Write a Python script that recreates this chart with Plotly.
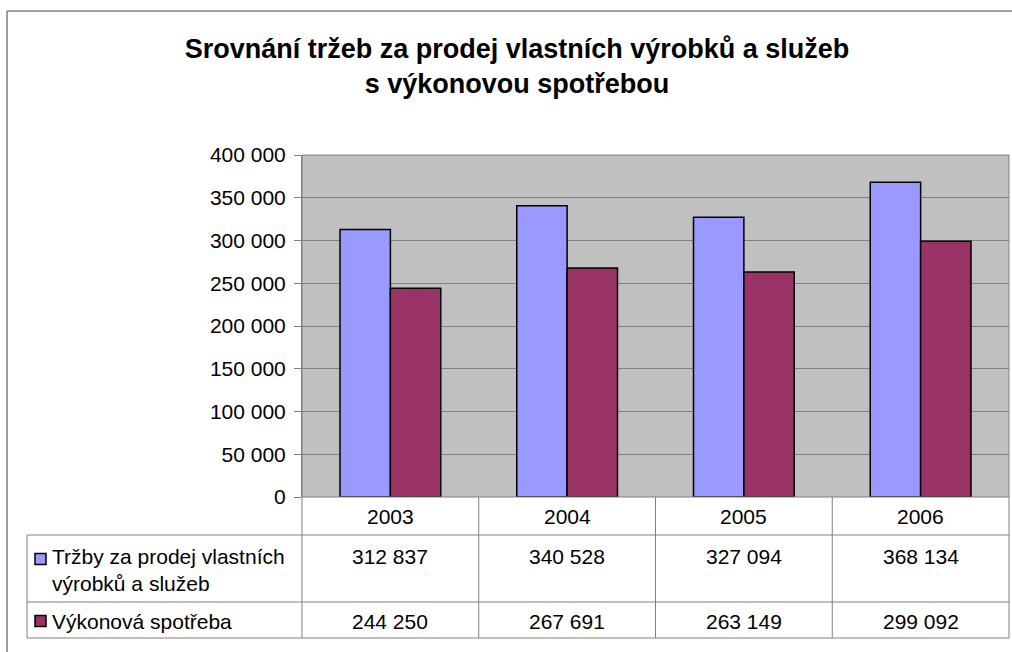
import plotly.graph_objects as go

years = ["2003", "2004", "2005", "2006"]
trzby = [312837, 340528, 327094, 368134]
spotreba = [244250, 267691, 263149, 299092]
series_names = ["Tržby za prodej vlastních<br>výrobků a služeb", "Výkonová spotřeba"]
series_colors = ["#9999FF", "#993366"]
title_text = "Srovnání tržeb za prodej vlastních výrobků a služeb<br>s výkonovou spotřebou"

FONT = "Liberation Sans, Arial, sans-serif"
W, H = 1012, 652
L, R, T, B = 302, 3, 155, 155
plot_h = H - T - B
plot_w = W - L - R


def py(pix):
    # pixel row -> paper y
    return (H - B - pix) / plot_h


def px_(pix):
    return (pix - L) / plot_w


def fmt(v):
    return f"{v:,}".replace(",", " ")


fig = go.Figure()
for name, vals, col in zip(series_names, [trzby, spotreba], series_colors):
    fig.add_trace(go.Bar(
        x=years, y=vals, name=name,
        marker=dict(color=col, line=dict(color="black", width=1.5)),
        showlegend=False,
    ))

fig.update_layout(
    width=W, height=H,
    margin=dict(l=L, r=R, t=T, b=B),
    paper_bgcolor="white",
    plot_bgcolor="#C0C0C0",
    barmode="group",
    bargap=0.43,
    bargroupgap=0,
    separators=", ",
    font=dict(family=FONT, size=21, color="black"),
    title=dict(
        text=title_text, x=517 / W, xanchor="center", y=1 - 58 / H, yanchor="top",
        font=dict(family=FONT, size=27, color="black", weight="bold"),
    ),
)
fig.update_xaxes(type="category", range=[-0.5, len(years) - 0.5],
                 showticklabels=False, showgrid=False, ticks="",
                 zeroline=False, showline=False)
fig.update_yaxes(range=[0, 400000], dtick=50000, tickformat=",d",
                 showgrid=True, gridcolor="#808080", gridwidth=1,
                 ticks="outside", ticklen=7, tickcolor="#808080",
                 ticklabelstandoff=4,
                 showline=True, linecolor="#808080", linewidth=1,
                 zeroline=False, tickfont=dict(size=21))

shapes = []
line = dict(color="#808080", width=1)
# plot frame top/right
shapes.append(dict(type="rect", xref="paper", yref="paper", x0=0, x1=1, y0=0, y1=1,
                   line=line, layer="above"))
# outer chart border (top and left)
shapes.append(dict(type="line", xref="paper", yref="paper", x0=px_(7), x1=px_(W), y0=py(11), y1=py(11),
                   line=dict(color="#808080", width=1.5)))
shapes.append(dict(type="line", xref="paper", yref="paper", x0=px_(7), x1=px_(7), y0=py(11), y1=py(H),
                   line=dict(color="#808080", width=1.5)))
# data table
rows = [535, 602, 638]
for r in rows:
    shapes.append(dict(type="line", xref="paper", yref="paper", x0=px_(27), x1=1, y0=py(r), y1=py(r), line=line))
for i in range(len(years) + 1):
    xp = i / len(years)
    shapes.append(dict(type="line", xref="paper", yref="paper", x0=xp, x1=xp, y0=0, y1=py(638), line=line))
shapes.append(dict(type="line", xref="paper", yref="paper", x0=px_(27), x1=px_(27), y0=py(535), y1=py(638), line=line))
# legend keys
for col, yc in zip(series_colors, [559, 621]):
    shapes.append(dict(type="rect", xref="paper", yref="paper",
                       x0=px_(35), x1=px_(46), y0=py(yc - 5.5), y1=py(yc + 5.5),
                       fillcolor=col, line=dict(color="black", width=1.5)))
fig.update_layout(shapes=shapes)

ann = []
for i, yr in enumerate(years):
    ann.append(dict(x=i, xref="x", y=py(516), yref="paper", text=yr, showarrow=False,
                    xanchor="center", yanchor="middle"))
    ann.append(dict(x=i, xref="x", y=py(556), yref="paper", text=fmt(trzby[i]), showarrow=False,
                    xanchor="center", yanchor="middle"))
    ann.append(dict(x=i, xref="x", y=py(621), yref="paper", text=fmt(spotreba[i]), showarrow=False,
                    xanchor="center", yanchor="middle"))
ann.append(dict(x=px_(50), xref="paper", y=py(543), yref="paper", text=series_names[0],
                showarrow=False, xanchor="left", yanchor="top", align="left"))
ann.append(dict(x=px_(50), xref="paper", y=py(621), yref="paper", text=series_names[1],
                showarrow=False, xanchor="left", yanchor="middle", align="left"))
fig.update_layout(annotations=ann)

fig.write_html("out.html", config={"displayModeBar": False},
               post_script="document.body.style.margin='0';")
